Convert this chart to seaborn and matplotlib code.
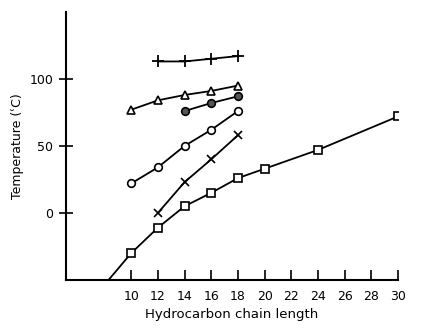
import numpy as np
import pandas as pd
import matplotlib; matplotlib.use("Agg")
import matplotlib.pyplot as plt
import seaborn as sns

# readings (chain length vs temperature, deg C)
sq_x = [8.3, 10, 12, 14, 16, 18, 20, 24, 30]
sq_y = [-50, -30, -11, 5, 15, 26, 33, 47, 72]
cross_x = [12, 14, 16, 18]
cross_y = [0, 23, 40, 58]
circ_x = [10, 12, 14, 16, 18]
circ_y = [22, 34, 50, 62, 76]
dot_x = [14, 16, 18]
dot_y = [76, 82, 87]
tri_x = [10, 12, 14, 16, 18]
tri_y = [77, 84, 88, 91, 95]
plus_x = [12, 14, 16, 18]
plus_y = [113, 113, 115, 117]

x_ticks = list(range(10, 31, 2))
y_ticks = [0, 50, 100]

sns.set_style("ticks", {"text.color": "black", "axes.labelcolor": "black",
                        "xtick.color": "black", "ytick.color": "black",
                        "axes.edgecolor": "black"})
plt.rcParams["font.family"] = ["DejaVu Sans"]

fig = plt.figure(figsize=(4.36, 3.29), dpi=100)
ax = fig.add_axes([0.151, 0.149, 0.762, 0.815])

kw = dict(color="black", linewidth=1.3, markersize=5.5, markeredgewidth=1.2)
sns.lineplot(x=sq_x, y=sq_y, ax=ax, sort=False, marker="s", markerfacecolor="white",
             markeredgecolor="black", markevery=list(range(1, len(sq_x))), **kw)
sns.lineplot(x=cross_x, y=cross_y, ax=ax, sort=False, marker="x", markeredgecolor="black", **kw)
sns.lineplot(x=circ_x, y=circ_y, ax=ax, sort=False, marker="o", markerfacecolor="white",
             markeredgecolor="black", **kw)
sns.lineplot(x=dot_x, y=dot_y, ax=ax, sort=False, marker="o", markerfacecolor="#555555",
             markeredgecolor="black", **kw)
sns.lineplot(x=tri_x, y=tri_y, ax=ax, sort=False, marker="^", markerfacecolor="white",
             markeredgecolor="black", **kw)
sns.lineplot(x=plus_x, y=plus_y, ax=ax, sort=False, marker="+", markeredgecolor="black",
             markersize=8, color="black", linewidth=1.3, markeredgewidth=1.3)

ax.set_xlim(5.1, 30)
ax.set_ylim(-50, 150)
ax.set_xticks(x_ticks)
ax.set_yticks(y_ticks)
ax.tick_params(axis="x", direction="in", length=7, width=1.2, labelsize=9, pad=7)
ax.tick_params(axis="y", direction="inout", length=10, width=1.2, labelsize=9, pad=4)
sns.despine(ax=ax)
for s in ("left", "bottom"):
    ax.spines[s].set_linewidth(1.5)
ax.set_xlabel("Hydrocarbon chain length", fontsize=9.5, labelpad=4)
ax.set_ylabel("Temperature (\u02bfC)", fontsize=9, labelpad=4)

plt.savefig("out.png", dpi=100)
